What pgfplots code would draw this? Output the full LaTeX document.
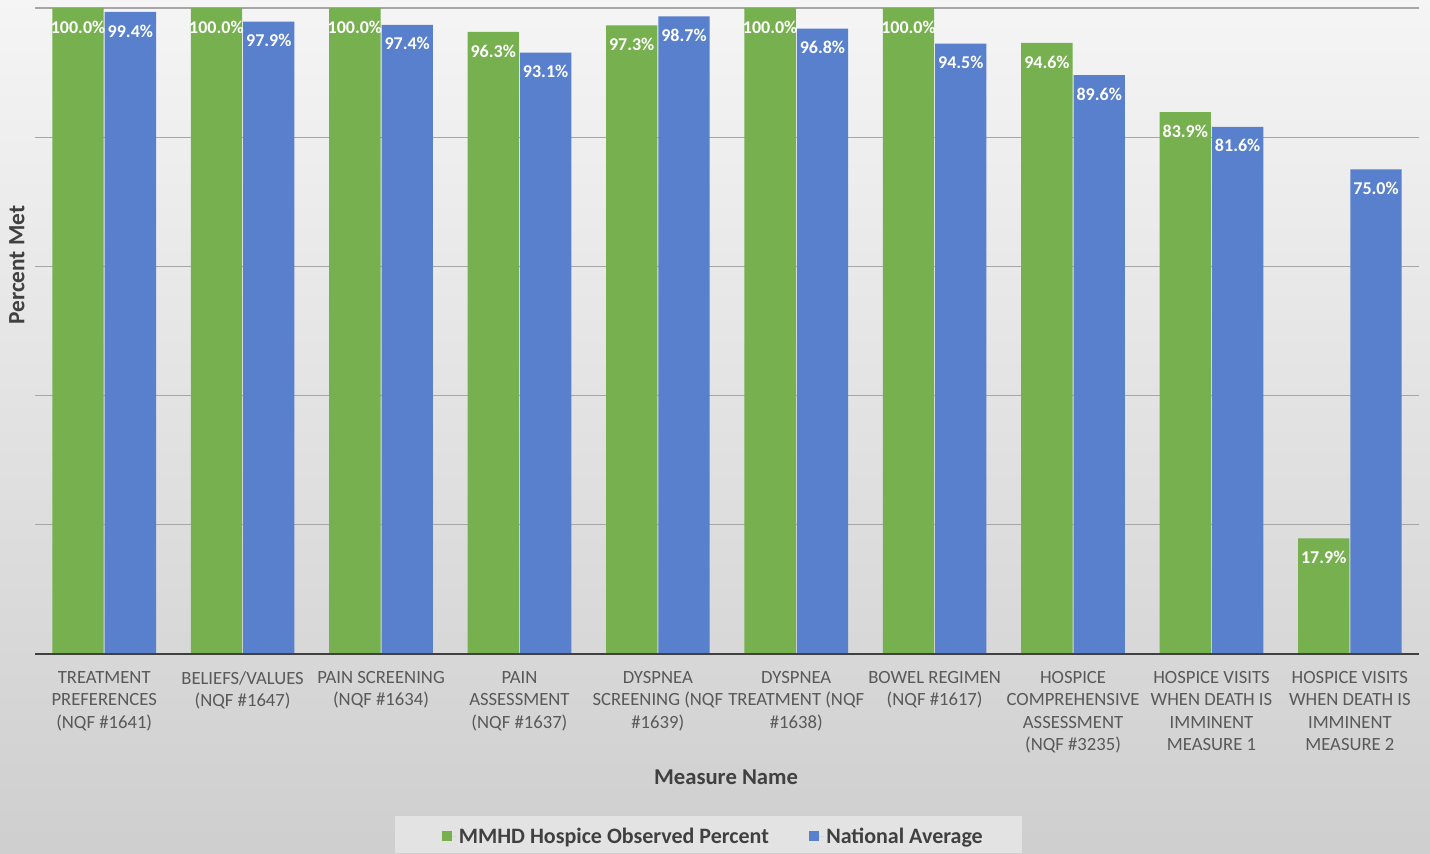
\documentclass[border=0pt]{standalone}
\usepackage{pgfplots}
\pgfplotsset{compat=1.18}
\usepackage{fontspec}
\setmainfont{Carlito}
\definecolor{grn}{HTML}{76B04F}
\definecolor{blu}{HTML}{5880CC}
\definecolor{tickgray}{HTML}{595959}
\definecolor{titlegray}{HTML}{404040}
\definecolor{gridgray}{HTML}{A6A6A6}
\begin{document}
\begin{tikzpicture}
\useasboundingbox (0,0) rectangle (1072.5pt,639.75pt);
\shade[top color=white!96!black, bottom color=black!19] (0,0) rectangle (1072.5pt,639.75pt);
\fill[black!11] (296.25pt,0) rectangle (766.5pt,27.75pt);
\begin{axis}[
  at={(26.25pt,149.25pt)}, anchor=south west,
  scale only axis, width=1038pt, height=484.5pt,
  ymin=0, ymax=100, xmin=-0.5, xmax=9.5,
  ybar=0.75pt, bar width=38.5pt,
  axis line style={draw=none},
  ytick={0,20,...,100}, yticklabels={},
  ymajorgrids, grid style={gridgray, line width=0.9pt},
  major tick length=0pt,
  xtick={0,...,9},
  xticklabels={
    {TREATMENT\\PREFERENCES\\(NQF \#1641)},
    {BELIEFS/VALUES\\(NQF \#1647)},
    {PAIN SCREENING\\(NQF \#1634)},
    {PAIN\\ASSESSMENT\\(NQF \#1637)},
    {DYSPNEA\\SCREENING (NQF\\\#1639)},
    {DYSPNEA\\TREATMENT (NQF\\\#1638)},
    {BOWEL REGIMEN\\(NQF \#1617)},
    {HOSPICE\\COMPREHENSIVE\\ASSESSMENT\\(NQF \#3235)},
    {HOSPICE VISITS\\WHEN DEATH IS\\IMMINENT\\MEASURE 1},
    {HOSPICE VISITS\\WHEN DEATH IS\\IMMINENT\\MEASURE 2}},
  xticklabel style={align=center, font=\fontsize{14}{16.9}\selectfont, text=tickgray, yshift=-9.25pt},
  xlabel={Measure Name},
  xlabel style={at={(axis description cs:0.4993,-0.1904)}, anchor=center, font=\bfseries\fontsize{17}{20}\selectfont, text=titlegray},
  ylabel={Percent Met},
  ylabel style={at={(axis description cs:-0.013,0.602)}, anchor=center, rotate=0, font=\bfseries\fontsize{17.5}{20}\selectfont, text=titlegray},
  /pgf/number format/assume math mode=true,
  nodes near coords={\pgfmathprintnumber[fixed,fixed zerofill,precision=1]{\pgfplotspointmeta}\%},
  nodes near coords style={font=\bfseries\fontsize{13.5}{16}\selectfont, text=white, anchor=center, yshift=-14.25pt},
  legend columns=2,
  legend style={at={(axis description cs:0.4902,-0.2822)}, anchor=center, draw=none, fill=none,
    font=\bfseries\fontsize{16.5}{19}\selectfont, text=titlegray,
    /tikz/every even column/.append style={column sep=28pt}},
  legend image code/.code={\fill[#1] (0pt,-3.75pt) rectangle (7.5pt,3.75pt); \path (0pt,0pt) -- (11pt,0pt);},
]
\addplot[fill=grn, draw=none] coordinates {(0,100) (1,100) (2,100) (3,96.3) (4,97.3) (5,100) (6,100) (7,94.6) (8,83.9) (9,17.9)};
\addplot[fill=blu, draw=none] coordinates {(0,99.4) (1,97.9) (2,97.4) (3,93.1) (4,98.7) (5,96.8) (6,94.5) (7,89.6) (8,81.6) (9,75.0)};
\legend{MMHD Hospice Observed Percent, National Average}
\draw[titlegray, line width=2pt] (rel axis cs:0,0) -- (rel axis cs:1,0);
\end{axis}
\end{tikzpicture}
\end{document}
